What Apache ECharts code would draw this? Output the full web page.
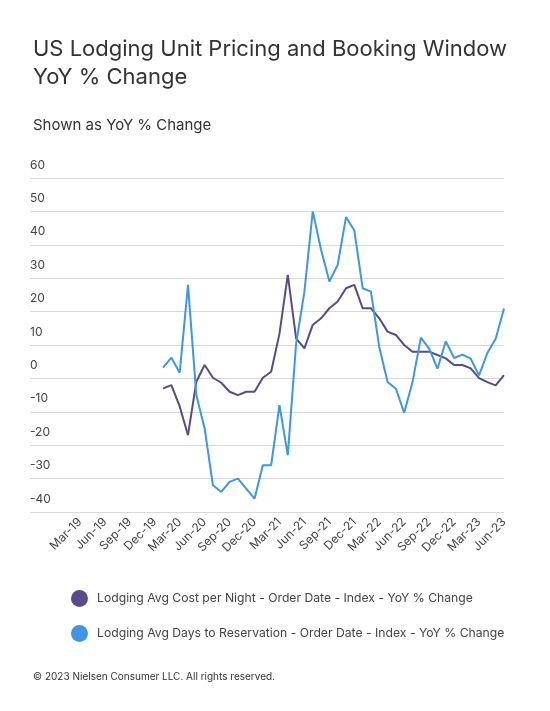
<!DOCTYPE html>
<html>
<head>
<meta charset="utf-8">
<script src="https://cdn.jsdelivr.net/npm/echarts@6/dist/echarts.min.js"></script>
<style>
  html, body { margin: 0; padding: 0; background: #fff; }
  #chart { width: 550px; height: 711px; }
</style>
</head>
<body>
<div id="chart"></div>
<script>
// monthly categories Sep-18 .. Jun-23
var monthNames = ['Jan', 'Feb', 'Mar', 'Apr', 'May', 'Jun', 'Jul', 'Aug', 'Sep', 'Oct', 'Nov', 'Dec'];
var months = [];
for (var y = 18; y <= 23; y++) {
  for (var m = 0; m < 12; m++) {
    if (y === 18 && m < 8) continue;
    if (y === 23 && m > 5) continue;
    months.push(monthNames[m] + '-' + y);
  }
}

// values from Jan-20 onwards
var costPerNight = [
  -3, -2, -8.4, -17, -1, 4, 0.2, -1.3, -4, -5, -4, -4,
  0.2, 2, 13.4, 31, 12, 9, 16, 18, 21, 23,
  27, 28, 21, 21, 18, 14, 13, 10, 8, 8,
  8, 7, 6, 4, 4, 3, 0.1, -1.1, -2.1, 1
];
var daysToReservation = [
  3.2, 6.2, 1.7, 28, -5, -15, -32, -34, -31, -30, -33, -36,
  -26, -26, -8, -23, 10.4, 26, 50, 38.5, 29, 34,
  48.3, 44.3, 27, 26, 9.4, -1.1, -3.1, -10.3, -1.1, 12.2,
  8.9, 2.9, 11.1, 6.1, 7.1, 5.9, 0.9, 7.6, 11.9, 20.9
];

var lead = months.indexOf('Jan-20');
function pad(arr) {
  var out = [];
  for (var i = 0; i < lead; i++) out.push(null);
  return out.concat(arr);
}
var firstLabel = months.indexOf('Mar-19');

var chart = echarts.init(document.getElementById('chart'));
var font = 'Inter, "Noto Sans", sans-serif';

var option = {
  animation: false,
  textStyle: { fontFamily: font },
  title: [
    {
      text: 'US Lodging Unit Pricing and Booking Window\nYoY % Change',
      left: 28, top: 30,
      textStyle: { fontSize: 22, fontWeight: 'normal', color: '#333', lineHeight: 28, fontFamily: font }
    },
    {
      text: 'Shown as YoY % Change',
      left: 28, top: 113,
      textStyle: { fontSize: 15, fontWeight: 'normal', color: '#333', fontFamily: font }
    },
    {
      text: '© 2023 Nielsen Consumer LLC. All rights reserved.',
      left: 28, top: 667,
      textStyle: { fontSize: 10, fontWeight: 'normal', color: '#333', fontFamily: font }
    }
  ],
  legend: {
    orient: 'vertical',
    left: 66, top: 585,
    itemGap: 18,
    itemWidth: 17, itemHeight: 17,
    icon: 'circle',
    textStyle: { fontSize: 12.2, color: '#444', padding: [0, 0, 0, 4] },
    data: [
      'Lodging Avg Cost per Night - Order Date - Index - YoY % Change',
      'Lodging Avg Days to Reservation - Order Date - Index - YoY % Change'
    ]
  },
  grid: { left: 30, right: 46, top: 178, bottom: 199 },
  xAxis: {
    type: 'category',
    data: months,
    boundaryGap: false,
    axisLine: { show: false },
    axisTick: { show: false },
    axisLabel: {
      rotate: 45,
      fontSize: 12,
      color: '#444',
      margin: 8,
      interval: function (i) { return i >= firstLabel && (i - firstLabel) % 3 === 0; }
    }
  },
  yAxis: {
    type: 'value',
    min: -40, max: 60, interval: 10,
    axisLine: { show: false },
    axisTick: { show: false },
    splitLine: { lineStyle: { color: '#d9d9d9' } },
    axisLabel: {
      inside: true,
      verticalAlign: 'bottom',
      margin: 0,
      padding: [0, 0, 7, 0],
      fontSize: 12,
      color: '#444'
    }
  },
  series: [
    {
      name: 'Lodging Avg Cost per Night - Order Date - Index - YoY % Change',
      type: 'line',
      data: pad(costPerNight),
      showSymbol: false,
      itemStyle: { color: '#5b4a8b' },
      lineStyle: { color: '#5b4a8b', width: 2 }
    },
    {
      name: 'Lodging Avg Days to Reservation - Order Date - Index - YoY % Change',
      type: 'line',
      data: pad(daysToReservation),
      showSymbol: false,
      itemStyle: { color: '#3f97e0' },
      lineStyle: { color: '#3f97e0', width: 2 }
    }
  ]
};

chart.setOption(option);
</script>
</body>
</html>
